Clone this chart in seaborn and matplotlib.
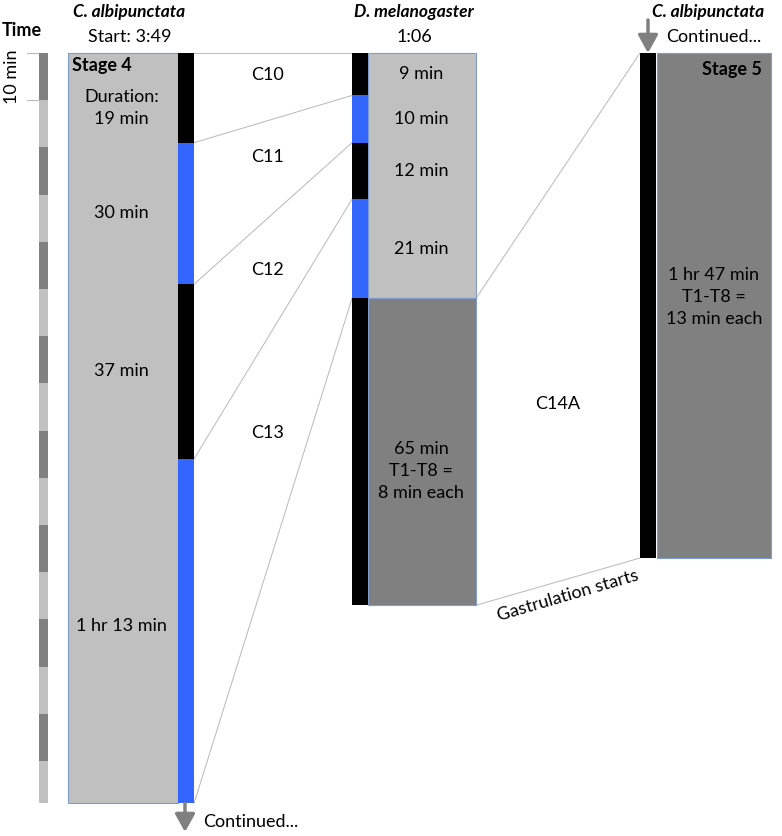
import numpy as np
import matplotlib
matplotlib.use("Agg")
import matplotlib.pyplot as plt
import seaborn as sns

sns.set_theme(style="white")
plt.rcParams["font.family"] = ["Lato", "DejaVu Sans"]
plt.rcParams["text.color"] = "black"
FS = 13

# durations in minutes (top to bottom)
alb4_cycles = [19, 30, 37, 73]          # C10, C11, C12, C13 in C. albipunctata stage 4
alb4_labels = ["19 min", "30 min", "37 min", "1 hr 13 min"]
mel_cycles = [9, 10, 12, 21, 65]        # C10, C11, C12, C13, C14A in D. melanogaster
mel_labels = ["9 min", "10 min", "12 min", "21 min", "65 min\nT1-T8 =\n8 min each"]
alb5_cycles = [107]                     # C14A in C. albipunctata stage 5
alb5_labels = ["1 hr 47 min\nT1-T8 =\n13 min each"]
cycle_names = ["C10", "C11", "C12", "C13", "C14A"]
time_step = 10

BLACK, BLUE = "#000000", "#3366ff"
LIGHT, DARK = "#c0c0c0", "#808080"
EDGE = "#7f9ccc"
LINE = "#b8b8b8"

# pixel -> minute helper for layout (y = 0 min at pixel 53, 4.72 px per minute)
PX_PER_MIN = 4.72
def py(p):
    return (p - 53) / PX_PER_MIN

fig = plt.figure(figsize=(7.82, 8.36), dpi=100)
ax = fig.add_axes([0, 0, 1, 1])
ax.set_xlim(0, 782)
ax.set_ylim(py(836), py(0))
ax.axis("off")

def strip(xc, durs, width=16):
    starts = np.concatenate([[0], np.cumsum(durs)[:-1]])
    cols = [BLACK if i % 2 == 0 else BLUE for i in range(len(durs))]
    ax.bar(xc, durs, bottom=starts, width=width, color=cols, linewidth=0, zorder=3)
    return starts

# time scale bar
total4 = sum(alb4_cycles)
t_starts = np.arange(0, total4, time_step)
t_h = np.minimum(time_step, total4 - t_starts)
ax.bar(43, t_h, bottom=t_starts, width=9,
       color=[DARK if i % 2 == 0 else LIGHT for i in range(len(t_starts))], linewidth=0)
for t in [0, time_step]:
    ax.plot([27, 38], [t, t], color=LINE, lw=0.8)
ax.text(12, time_step / 2, "10 min", rotation=90, ha="center", va="center", fontsize=FS)
ax.text(22, py(30), "Time", ha="center", va="center", fontsize=FS, fontweight="bold")

# column 1: C. albipunctata stage 4
ax.bar(123, total4, bottom=0, width=110, color=LIGHT, edgecolor=EDGE, linewidth=0.8, zorder=2)
s1 = strip(186, alb4_cycles)
ax.text(129, py(12), "C. albipunctata", ha="center", va="center", fontsize=FS - 0.5,
        fontweight="bold", fontstyle="italic")
ax.text(130, py(37), "Start: 3:49", ha="center", va="center", fontsize=FS)
ax.text(72, py(66), "Stage 4", ha="left", va="center", fontsize=FS, fontweight="bold", zorder=4)
ax.text(122, py(97), "Duration:", ha="center", va="center", fontsize=FS, zorder=4)
label_y = [py(119), py(213), py(371), py(626)]
for y, lab in zip(label_y, alb4_labels):
    ax.text(121, y, lab, ha="center", va="center", fontsize=FS, zorder=4)
ax.annotate("", xy=(185, py(832)), xytext=(185, total4),
            arrowprops=dict(arrowstyle="-|>,head_length=0.9,head_width=0.5",
                            color=DARK, lw=2.5, shrinkA=0, shrinkB=0))
ax.text(203, py(822), "Continued...", ha="left", va="center", fontsize=FS)

# column 2: D. melanogaster
mel_pre = sum(mel_cycles[:4])
ax.bar(422, mel_pre, bottom=0, width=108, color=LIGHT, edgecolor=EDGE, linewidth=0.8, zorder=2)
ax.bar(422, mel_cycles[4], bottom=mel_pre, width=108, color=DARK, edgecolor=EDGE,
       linewidth=0.8, zorder=2)
s2 = strip(360, mel_cycles)
ax.text(414, py(12), "D. melanogaster", ha="center", va="center", fontsize=FS - 0.5,
        fontweight="bold", fontstyle="italic")
ax.text(414, py(37), "1:06", ha="center", va="center", fontsize=FS)
for st, d, lab in zip(s2, mel_cycles, mel_labels):
    yc = st + d / 2 if d < 30 else py(471)
    ax.text(421, yc, lab, ha="center", va="center", fontsize=FS, zorder=4, linespacing=1.45)

# column 3: C. albipunctata stage 5
ax.bar(714, alb5_cycles[0], bottom=0, width=114, color=DARK, edgecolor=EDGE, linewidth=0.8, zorder=2)
ax.bar(648, alb5_cycles, bottom=0, width=16, color=BLACK, linewidth=0, zorder=3)
ax.text(708, py(12), "C. albipunctata", ha="center", va="center", fontsize=FS - 0.5,
        fontweight="bold", fontstyle="italic")
ax.text(714, py(37), "Continued...", ha="center", va="center", fontsize=FS)
ax.text(762, py(69), "Stage 5", ha="right", va="center", fontsize=FS, fontweight="bold", zorder=4)
ax.text(714, py(297), alb5_labels[0], ha="center", va="center", fontsize=FS,
        linespacing=1.45, zorder=4)
ax.annotate("", xy=(648, 0), xytext=(648, py(20)),
            arrowprops=dict(arrowstyle="-|>,head_length=0.9,head_width=0.5",
                            color=DARK, lw=2.5, shrinkA=0, shrinkB=0))

# connector lines between matching cycle boundaries
b1 = np.concatenate([[0], np.cumsum(alb4_cycles)])
b2 = np.concatenate([[0], np.cumsum(mel_cycles)])
for ya, yb in zip(b1, b2):
    ax.plot([194, 352], [ya, yb], color=LINE, lw=0.7, zorder=1)
ax.plot([476, 640], [b2[4], 0], color=LINE, lw=0.7, zorder=1)
ax.plot([476, 640], [b2[5], alb5_cycles[0]], color=LINE, lw=0.7, zorder=1)

# cycle names
name_pos = [(268, py(75)), (268, py(157)), (268, py(270)), (268, py(433)), (558, py(404))]
for name, (x, y) in zip(cycle_names, name_pos):
    ax.text(x, y, name, ha="center", va="center", fontsize=FS)
ax.text(568, py(596), "Gastrulation starts", ha="center", va="center", fontsize=FS,
        rotation=16.3, rotation_mode="anchor")

fig.savefig("out.png", dpi=100)
